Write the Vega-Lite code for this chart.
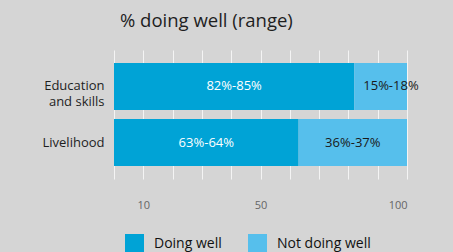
{
  "$schema": "https://vega.github.io/schema/vega-lite/v6.json",
  "autosize": "none",
  "width": 293,
  "height": 129,
  "padding": {"left": 114, "top": 50, "right": 46, "bottom": 73},
  "background": "#d5d5d5",
  "title": {
    "text": "% doing well (range)",
    "anchor": "start",
    "frame": "group",
    "dx": 6,
    "offset": 20,
    "fontSize": 18.5,
    "fontWeight": "normal",
    "font": "Open Sans",
    "color": "#1e1e1e"
  },
  "config": {
    "view": {"stroke": null},
    "font": "Open Sans",
    "axisX": {
      "title": null,
      "values": [10, 20, 30, 40, 50, 60, 70, 80, 90, 100],
      "labelExpr": "datum.value == 10 || datum.value == 50 || datum.value == 100 ? datum.label : ''",
      "labelOverlap": false,
      "ticks": false,
      "domain": false,
      "grid": true,
      "gridColor": "#f4f4f4",
      "gridOpacity": 1,
      "gridWidth": 1,
      "labelPadding": 20,
      "labelFontSize": 11,
      "labelColor": "#666666"
    }
  },
  "data": {
    "values": [
      {"category": "Education and skills", "status": "Doing well", "order": 1, "value": 82, "label": "82%-85%"},
      {"category": "Education and skills", "status": "Not doing well", "order": 2, "value": 18, "label": "15%-18%"},
      {"category": "Livelihood", "status": "Doing well", "order": 1, "value": 63, "label": "63%-64%"},
      {"category": "Livelihood", "status": "Not doing well", "order": 2, "value": 37, "label": "36%-37%"}
    ]
  },
  "encoding": {
    "y": {
      "field": "category",
      "type": "nominal",
      "sort": ["Education and skills", "Livelihood"],
      "scale": {"paddingInner": 0.16, "paddingOuter": 0.23},
      "axis": {
        "title": null,
        "ticks": false,
        "domain": false,
        "grid": false,
        "labelPadding": 10,
        "labelFontSize": 13,
        "labelColor": "#1e1e1e",
        "labelLineHeight": 16,
        "labelExpr": "datum.value == 'Education and skills' ? ['Education', 'and skills'] : datum.value"
      }
    }
  },
  "layer": [
    {
      "mark": {"type": "bar"},
      "encoding": {
        "x": {
          "field": "value",
          "type": "quantitative",
          "stack": "zero",
          "scale": {"domain": [0, 100], "nice": false}
        },
        "order": {"field": "order", "type": "quantitative"},
        "color": {
          "field": "status",
          "type": "nominal",
          "scale": {"domain": ["Doing well", "Not doing well"], "range": ["#00a3d6", "#56bfec"]},
          "legend": {
            "title": null,
            "orient": "none",
            "legendX": 11,
            "legendY": 184,
            "direction": "horizontal",
            "symbolType": "square",
            "symbolSize": 361,
            "symbolStrokeWidth": 0,
            "symbolOpacity": 1,
            "labelFontSize": 14,
            "labelColor": "#111111",
            "labelOffset": 10,
            "columnPadding": 26,
            "padding": 0
          }
        }
      }
    },
    {
      "transform": [
        {"filter": "!(datum.category == 'Education and skills' && datum.status == 'Not doing well')"}
      ],
      "mark": {"type": "text", "fontSize": 13, "baseline": "middle", "align": "center"},
      "encoding": {
        "x": {"field": "value", "type": "quantitative", "stack": "zero", "bandPosition": 0.5},
        "order": {"field": "order", "type": "quantitative"},
        "text": {"field": "label"},
        "color": {
          "condition": {"test": "datum.status == 'Doing well'", "value": "#ffffff"},
          "value": "#1a1a1a"
        }
      }
    },
    {
      "transform": [
        {"stack": "value", "groupby": ["category"], "sort": [{"field": "order"}], "as": ["x0", "x1"]},
        {"filter": "datum.category == 'Education and skills' && datum.status == 'Not doing well'"}
      ],
      "mark": {"type": "text", "fontSize": 13, "baseline": "middle", "align": "left", "dx": 9, "color": "#1a1a1a"},
      "encoding": {
        "x": {"field": "x0", "type": "quantitative"},
        "text": {"field": "label"}
      }
    }
  ]
}
